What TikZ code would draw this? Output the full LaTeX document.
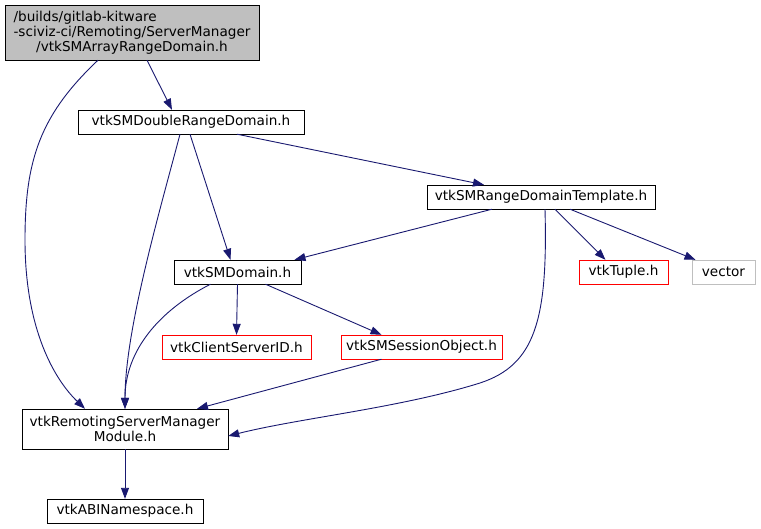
\documentclass[tikz,border=0pt]{standalone}
\usepackage{fontspec}
\setmainfont{DejaVu Sans}
\usetikzlibrary{arrows.meta,positioning}
\definecolor{edgeblue}{RGB}{25,25,112}
\definecolor{rootgray}{RGB}{191,191,191}
\definecolor{missgray}{RGB}{191,191,191}
\tikzset{
  file/.style={draw=black, fill=white, inner sep=0pt, align=center,
    font=\fontsize{13.6}{15}\selectfont, minimum height=24pt},
  redfile/.style={file, draw=red},
  grayfile/.style={file, draw=missgray},
  dep/.style={draw=edgeblue, line width=0.9pt,
    -{Triangle[length=11pt,width=8pt]}}
}
\begin{document}
\begin{tikzpicture}[x=1pt,y=-1pt]
  \useasboundingbox (0,0) rectangle (761,529);
  % files
  \node[file, fill=rootgray, minimum width=254pt, minimum height=55pt] (root) at (132,32.5)
    {\setbox0\hbox{-sciviz-ci/Remoting/ServerManager}\makebox[\wd0][l]{/builds/gitlab-kitware}\\
     -sciviz-ci/Remoting/ServerManager\\/vtkSMArrayRangeDomain.h};
  \node[file, minimum width=226pt] (dbl) at (191,122) {vtkSMDoubleRangeDomain.h};
  \node[file, minimum width=228pt] (tmpl) at (541,197) {vtkSMRangeDomainTemplate.h};
  \node[file, minimum width=127pt] (dom) at (237.5,272) {vtkSMDomain.h};
  \node[redfile, minimum width=89pt] (tuple) at (623.5,272) {vtkTuple.h};
  \node[grayfile, minimum width=63pt] (vec) at (723.5,272) {vector};
  \node[redfile, minimum width=149pt] (csid) at (236.5,347) {vtkClientServerID.h};
  \node[redfile, minimum width=161pt] (sess) at (421.5,347) {vtkSMSessionObject.h};
  \node[file, minimum width=206pt, minimum height=40pt] (mod) at (125,429)
    {vtkRemotingServerManager\\Module.h};
  \node[file, minimum width=156pt] (abi) at (125,511) {vtkABINamespace.h};
  % includes
  \draw[dep] ([xshift=15]root.south) -- ([xshift=-19]dbl.north);
  \draw[dep] ([xshift=-34]root.south) .. controls (40,115) and (25,160) .. (25,240)
    .. controls (25,330) and (55,380) .. ([xshift=-40]mod.north);
  \draw[dep] ([xshift=46]dbl.south) -- ([xshift=-57]tmpl.north);
  \draw[dep] ([xshift=-1]dbl.south) -- ([xshift=-7]dom.north);
  \draw[dep] ([xshift=-11]dbl.south) .. controls (160,210) and (125,330) .. (mod.north);
  \draw[dep] ([xshift=-49]tmpl.south) -- ([xshift=57]dom.north);
  \draw[dep] ([xshift=4]tmpl.south) .. controls (548,320) and (535,365) .. (480,383)
    .. controls (400,408) and (300,418) .. ([yshift=-7]mod.east);
  \draw[dep] ([xshift=14]tmpl.south) -- ([xshift=-18]tuple.north);
  \draw[dep] ([xshift=29]tmpl.south) -- ([xshift=-28]vec.north);
  \draw[dep] ([xshift=-27]dom.south) .. controls (160,310) and (125,350) .. (mod.north);
  \draw[dep] (dom.south) -- (csid.north);
  \draw[dep] ([xshift=28]dom.south) -- ([xshift=-40]sess.north);
  \draw[dep] ([xshift=-40]sess.south) -- ([xshift=72]mod.north);
  \draw[dep] (mod.south) -- (abi.north);
\end{tikzpicture}
\end{document}
